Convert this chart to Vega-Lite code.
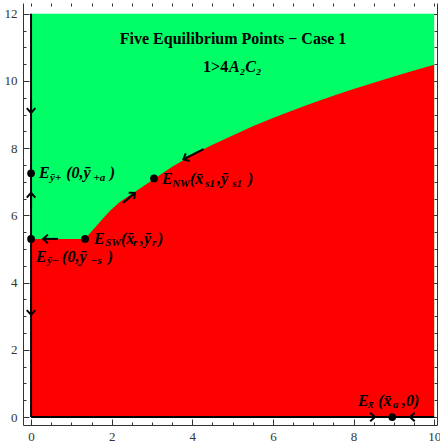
{
  "$schema": "https://vega.github.io/schema/vega-lite/v6.json",
  "width": 414,
  "height": 422,
  "autosize": "none",
  "padding": {"left": 23, "top": 3, "right": 3, "bottom": 22},
  "config": {"view": {"stroke": null}},
  "datasets": {
    "boundary": [
      {"x": 0, "y": 5.3}, {"x": 1.34, "y": 5.3}, {"x": 1.45, "y": 5.45}, {"x": 1.63, "y": 5.7},
      {"x": 1.8, "y": 5.93}, {"x": 1.96, "y": 6.14}, {"x": 2.2, "y": 6.4}, {"x": 2.46, "y": 6.61},
      {"x": 2.7, "y": 6.8}, {"x": 3.05, "y": 7.08}, {"x": 3.5, "y": 7.45}, {"x": 4.0, "y": 7.8},
      {"x": 4.5, "y": 8.1}, {"x": 5.0, "y": 8.38}, {"x": 5.5, "y": 8.65}, {"x": 6.0, "y": 8.9},
      {"x": 6.5, "y": 9.13}, {"x": 7.0, "y": 9.35}, {"x": 7.5, "y": 9.56}, {"x": 8.0, "y": 9.76},
      {"x": 8.5, "y": 9.95}, {"x": 9.0, "y": 10.13}, {"x": 9.5, "y": 10.31}, {"x": 10.0, "y": 10.48}
    ],
    "lines": [
      {"x": 0, "y": 0, "x2": 0, "y2": 12},
      {"x": 0, "y": 0, "x2": 10, "y2": 0}
    ],
    "shafts": [
      {"x": 0, "y": 6.22, "x2": 0, "y2": 6.67},
      {"x": 0, "y": 9.45, "x2": 0, "y2": 9.05},
      {"x": 0, "y": 3.48, "x2": 0, "y2": 3.04},
      {"x": 0.67, "y": 5.3, "x2": 0.3, "y2": 5.3},
      {"x": 2.28, "y": 6.37, "x2": 2.58, "y2": 6.67},
      {"x": 4.28, "y": 7.97, "x2": 3.78, "y2": 7.67},
      {"x": 8.21, "y": 0, "x2": 8.53, "y2": 0},
      {"x": 9.85, "y": 0, "x2": 9.4, "y2": 0}
    ],
    "heads": [
      {"x": 0, "y": 6.67, "a": 270},
      {"x": 0, "y": 9.05, "a": 90},
      {"x": 0, "y": 3.04, "a": 90},
      {"x": 0.3, "y": 5.3, "a": 180},
      {"x": 2.58, "y": 6.67, "a": 320},
      {"x": 3.78, "y": 7.67, "a": 153},
      {"x": 8.53, "y": 0, "a": 0},
      {"x": 9.4, "y": 0, "a": 180}
    ],
    "points": [
      {"x": 0, "y": 7.25}, {"x": 0, "y": 5.3}, {"x": 1.34, "y": 5.3}, {"x": 3.05, "y": 7.1}, {"x": 8.96, "y": 0}
    ],
    "labmain": [
      {"x": 0.2, "y": 7.25, "t": "E"},
      {"x": 0.87, "y": 7.25, "t": "(0,ȳ"},
      {"x": 1.95, "y": 7.25, "t": ")"},
      {"x": 0.12, "y": 4.76, "t": "E"},
      {"x": 0.77, "y": 4.76, "t": "(0,ȳ"},
      {"x": 1.9, "y": 4.76, "t": ")"},
      {"x": 1.56, "y": 5.31, "t": "E"},
      {"x": 2.23, "y": 5.31, "t": "(x̄"},
      {"x": 2.7, "y": 5.31, "t": ",ȳ"},
      {"x": 3.15, "y": 5.31, "t": ")"},
      {"x": 3.25, "y": 7.07, "t": "E"},
      {"x": 3.94, "y": 7.07, "t": "(x̄"},
      {"x": 4.61, "y": 7.07, "t": ",ȳ"},
      {"x": 5.38, "y": 7.07, "t": ")"},
      {"x": 8.11, "y": 0.48, "t": "E"},
      {"x": 8.61, "y": 0.48, "t": "(x̄"},
      {"x": 9.2, "y": 0.48, "t": ",0)"}
    ],
    "labsub": [
      {"x": 0.47, "y": 7.12, "t": "ȳ+"},
      {"x": 1.55, "y": 7.12, "t": "+a"},
      {"x": 0.4, "y": 4.63, "t": "ȳ−"},
      {"x": 1.48, "y": 4.63, "t": "−s"},
      {"x": 1.84, "y": 5.18, "t": "SW"},
      {"x": 2.53, "y": 5.18, "t": "r"},
      {"x": 3.0, "y": 5.18, "t": "r"},
      {"x": 3.5, "y": 6.94, "t": "NW"},
      {"x": 4.32, "y": 6.94, "t": "s1"},
      {"x": 4.99, "y": 6.94, "t": "s1"},
      {"x": 8.36, "y": 0.35, "t": "x̄"},
      {"x": 8.98, "y": 0.35, "t": "a"}
    ]
  },
  "layer": [
    {
      "data": {"values": [{"x": 0, "x2": 10, "y": 0, "y2": 12}]},
      "mark": {"type": "rect", "color": "#00FF66"},
      "encoding": {
        "x": {"field": "x", "type": "quantitative", "scale": {"domain": [-0.2, 10.07], "nice": false, "zero": false},
          "axis": {"orient": "bottom", "title": null, "grid": false,
            "values": [0,0.5,1,1.5,2,2.5,3,3.5,4,4.5,5,5.5,6,6.5,7,7.5,8,8.5,9,9.5,10],
            "labelExpr": "datum.value % 2 === 0 ? format(datum.value, 'd') : ''",
            "tickSize": {"condition": {"test": "datum.value % 2 === 0", "value": -6}, "value": -3},
            "labelPadding": 11, "labelFont": "Times New Roman, Liberation Serif, serif", "labelFontSize": 13, "labelColor": "#333",
            "domainColor": "#333", "tickColor": "#333", "labelFlush": false, "labelOverlap": false}},
        "x2": {"field": "x2"},
        "y": {"field": "y", "type": "quantitative", "scale": {"domain": [-0.238, 12.32], "nice": false, "zero": false},
          "axis": {"orient": "left", "title": null, "grid": false,
            "values": [0,0.5,1,1.5,2,2.5,3,3.5,4,4.5,5,5.5,6,6.5,7,7.5,8,8.5,9,9.5,10,10.5,11,11.5,12],
            "labelExpr": "datum.value % 2 === 0 ? format(datum.value, 'd') : ''",
            "tickSize": {"condition": {"test": "datum.value % 2 === 0", "value": -6}, "value": -3},
            "labelPadding": 12, "labelFont": "Times New Roman, Liberation Serif, serif", "labelFontSize": 13, "labelColor": "#333",
            "domainColor": "#333", "tickColor": "#333", "labelFlush": false, "labelOverlap": false}},
        "y2": {"field": "y2"}
      }
    },
    {
      "data": {"name": "boundary"},
      "mark": {"type": "area", "color": "#FF0000", "opacity": 1},
      "encoding": {
        "x": {"field": "x", "type": "quantitative", "scale": {"domain": [-0.2, 10.07], "nice": false, "zero": false}, "axis": null},
        "y": {"field": "y", "type": "quantitative", "scale": {"domain": [-0.238, 12.32], "nice": false, "zero": false}, "axis": null},
        "y2": {"datum": 0}
      }
    },
    {
      "data": {"name": "lines"},
      "mark": {"type": "rule", "color": "black", "strokeWidth": 2},
      "encoding": {
        "x": {"field": "x", "type": "quantitative", "scale": {"domain": [-0.2, 10.07], "nice": false, "zero": false},
          "axis": {"orient": "top", "title": null, "grid": false, "labels": false, "domain": false,
            "values": [0,0.5,1,1.5,2,2.5,3,3.5,4,4.5,5,5.5,6,6.5,7,7.5,8,8.5,9,9.5,10],
            "tickSize": -3, "tickColor": "#333"}},
        "x2": {"field": "x2"},
        "y": {"field": "y", "type": "quantitative", "scale": {"domain": [-0.238, 12.32], "nice": false, "zero": false},
          "axis": {"orient": "right", "title": null, "grid": false, "labels": false,
            "values": [0,0.5,1,1.5,2,2.5,3,3.5,4,4.5,5,5.5,6,6.5,7,7.5,8,8.5,9,9.5,10,10.5,11,11.5,12],
            "tickSize": {"condition": {"test": "datum.value % 2 === 0", "value": -5}, "value": -3},
            "domainColor": "#333", "tickColor": "#333"}},
        "y2": {"field": "y2"}
      }
    },
    {
      "data": {"name": "shafts"},
      "mark": {"type": "rule", "color": "black", "strokeWidth": 2},
      "encoding": {
        "x": {"field": "x", "type": "quantitative", "scale": {"domain": [-0.2, 10.07], "nice": false, "zero": false}, "axis": null},
        "x2": {"field": "x2"},
        "y": {"field": "y", "type": "quantitative", "scale": {"domain": [-0.238, 12.32], "nice": false, "zero": false}, "axis": null},
        "y2": {"field": "y2"}
      }
    },
    {
      "data": {"name": "heads"},
      "mark": {"type": "point", "shape": "M -1 -0.9 L 0 0 L -1 0.9", "filled": false, "color": "black", "strokeWidth": 2, "size": 90, "opacity": 1},
      "encoding": {
        "x": {"field": "x", "type": "quantitative", "scale": {"domain": [-0.2, 10.07], "nice": false, "zero": false}, "axis": null},
        "y": {"field": "y", "type": "quantitative", "scale": {"domain": [-0.238, 12.32], "nice": false, "zero": false}, "axis": null},
        "angle": {"field": "a", "type": "quantitative", "scale": null}
      }
    },
    {
      "data": {"name": "points"},
      "mark": {"type": "circle", "color": "black", "size": 60, "opacity": 1},
      "encoding": {
        "x": {"field": "x", "type": "quantitative", "scale": {"domain": [-0.2, 10.07], "nice": false, "zero": false}, "axis": null},
        "y": {"field": "y", "type": "quantitative", "scale": {"domain": [-0.238, 12.32], "nice": false, "zero": false}, "axis": null}
      }
    },
    {
      "data": {"name": "labmain"},
      "mark": {"type": "text", "font": "Times New Roman, Liberation Serif, serif", "fontSize": 16, "fontWeight": "bold", "fontStyle": "italic", "align": "left", "baseline": "middle", "color": "black"},
      "encoding": {
        "x": {"field": "x", "type": "quantitative", "scale": {"domain": [-0.2, 10.07], "nice": false, "zero": false}, "axis": null},
        "y": {"field": "y", "type": "quantitative", "scale": {"domain": [-0.238, 12.32], "nice": false, "zero": false}, "axis": null},
        "text": {"field": "t"}
      }
    },
    {
      "data": {"name": "labsub"},
      "mark": {"type": "text", "font": "Times New Roman, Liberation Serif, serif", "fontSize": 11, "fontWeight": "bold", "fontStyle": "italic", "align": "left", "baseline": "middle", "color": "black"},
      "encoding": {
        "x": {"field": "x", "type": "quantitative", "scale": {"domain": [-0.2, 10.07], "nice": false, "zero": false}, "axis": null},
        "y": {"field": "y", "type": "quantitative", "scale": {"domain": [-0.238, 12.32], "nice": false, "zero": false}, "axis": null},
        "text": {"field": "t"}
      }
    },
    {
      "data": {"values": [{"x": 5.01, "y": 11.25, "t": "Five Equilibrium Points − Case 1"}, {"x": 4.89, "y": 10.42, "t": "1>4"}]},
      "mark": {"type": "text", "font": "Times New Roman, Liberation Serif, serif", "fontSize": 16, "fontWeight": "bold", "align": {"expr": "datum.t == '1>4' ? 'right' : 'center'"}, "baseline": "middle", "color": "black"},
      "encoding": {
        "x": {"field": "x", "type": "quantitative", "scale": {"domain": [-0.2, 10.07], "nice": false, "zero": false}, "axis": null},
        "y": {"field": "y", "type": "quantitative", "scale": {"domain": [-0.238, 12.32], "nice": false, "zero": false}, "axis": null},
        "text": {"field": "t"}
      }
    },
    {
      "data": {"values": [{"x": 4.91, "y": 10.42, "t": "A₂C₂"}]},
      "mark": {"type": "text", "font": "Times New Roman, Liberation Serif, serif", "fontSize": 16, "fontWeight": "bold", "fontStyle": "italic", "align": "left", "baseline": "middle", "color": "black"},
      "encoding": {
        "x": {"field": "x", "type": "quantitative", "scale": {"domain": [-0.2, 10.07], "nice": false, "zero": false}, "axis": null},
        "y": {"field": "y", "type": "quantitative", "scale": {"domain": [-0.238, 12.32], "nice": false, "zero": false}, "axis": null},
        "text": {"field": "t"}
      }
    }
  ],
  "resolve": {"axis": {"x": "independent", "y": "independent"}}
}
